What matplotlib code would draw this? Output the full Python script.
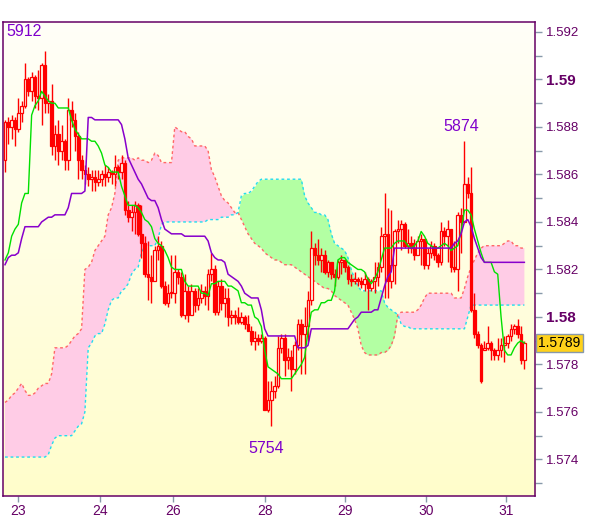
import numpy as np
import matplotlib
matplotlib.use("Agg")
import matplotlib.pyplot as plt

plt.rcParams['font.family'] = ['Liberation Sans', 'DejaVu Sans']

# hourly bars, prices written as the last four digits (5882 -> 1.5882)
o = [5866,5882,5880,5883,5879,5886,5889,5900,5895,5901,
     5893,5892,5906,5890,5891,5872,5877,5870,5874,5866,
     5887,5883,5876,5866,5862,5860,5858,5859,5857,5858,
     5860,5859,5861,5860,5863,5861,5865,5845,5842,5844,
     5847,5835,5831,5818,5817,5815,5828,5830,5813,5806,
     5810,5810,5819,5817,5801,5811,5801,5811,5805,5808,
     5811,5809,5818,5820,5802,5813,5806,5808,5800,5801,
     5800,5798,5800,5797,5794,5790,5791,5790,5791,5761,
     5765,5769,5771,5787,5791,5782,5783,5778,5788,5797,
     5793,5796,5807,5829,5826,5824,5826,5819,5823,5818,
     5817,5823,5824,5821,5816,5815,5816,5815,5814,5816,
     5812,5815,5817,5821,5834,5835,5815,5822,5836,5837,
     5839,5830,5831,5829,5826,5832,5833,5822,5827,5830,
     5826,5823,5836,5834,5837,5821,5820,5843,5840,5856,
     5852,5803,5793,5788,5786,5787,5789,5786,5784,5786,
     5788,5789,5792,5795,5796,5793,5782]
c = [5882,5880,5883,5879,5886,5889,5900,5895,5901,5893,
     5892,5906,5890,5891,5872,5877,5870,5874,5866,5887,
     5883,5876,5866,5862,5860,5858,5859,5857,5858,5860,
     5859,5861,5860,5863,5861,5865,5845,5842,5844,5847,
     5835,5831,5818,5817,5815,5828,5830,5813,5806,5810,
     5810,5819,5817,5801,5811,5801,5811,5805,5808,5811,
     5809,5818,5820,5802,5813,5806,5808,5800,5801,5800,
     5798,5800,5797,5794,5790,5791,5790,5791,5761,5765,
     5769,5771,5787,5791,5782,5783,5778,5788,5797,5793,
     5796,5807,5829,5826,5824,5826,5819,5823,5818,5817,
     5823,5824,5821,5816,5815,5816,5815,5814,5816,5812,
     5815,5817,5821,5834,5835,5815,5822,5836,5837,5839,
     5830,5831,5829,5826,5832,5833,5822,5827,5830,5826,
     5823,5836,5834,5837,5821,5820,5843,5840,5856,5852,
     5803,5793,5788,5773,5787,5789,5786,5784,5786,5788,
     5789,5792,5795,5796,5793,5782,5789]
h = [5883,5884,5885,5884,5892,5891,5907,5901,5903,5902,
     5904,5907,5912,5894,5898,5881,5883,5881,5875,5892,
     5891,5886,5878,5868,5864,5863,5862,5862,5862,5862,
     5864,5863,5862,5868,5864,5868,5866,5849,5847,5849,
     5848,5847,5834,5832,5826,5830,5834,5832,5815,5814,
     5826,5826,5820,5819,5818,5813,5814,5812,5812,5814,
     5813,5820,5827,5822,5815,5816,5812,5812,5803,5803,
     5804,5802,5801,5801,5796,5794,5793,5793,5792,5773,
     5773,5775,5792,5793,5793,5787,5786,5790,5799,5799,
     5804,5811,5836,5831,5833,5829,5828,5824,5823,5820,
     5824,5826,5823,5822,5818,5819,5817,5817,5819,5817,
     5816,5823,5823,5838,5852,5846,5845,5837,5841,5841,
     5840,5837,5834,5833,5834,5835,5830,5829,5832,5831,
     5827,5840,5838,5841,5829,5832,5844,5846,5874,5859,
     5863,5810,5794,5789,5790,5796,5790,5787,5791,5791,
     5792,5793,5797,5797,5799,5796,5790]
l = [5861,5873,5875,5872,5878,5882,5888,5893,5891,5888,
     5887,5881,5886,5886,5868,5866,5864,5866,5862,5862,
     5880,5870,5858,5858,5856,5855,5853,5853,5855,5855,
     5855,5857,5856,5855,5858,5858,5843,5840,5836,5835,
     5834,5825,5817,5807,5806,5816,5824,5812,5805,5804,
     5808,5806,5814,5800,5799,5798,5801,5802,5803,5806,
     5805,5803,5815,5801,5801,5803,5800,5796,5797,5797,
     5797,5797,5795,5794,5788,5786,5788,5789,5761,5760,
     5754,5766,5770,5785,5775,5778,5769,5776,5786,5776,
     5776,5790,5805,5822,5822,5819,5818,5817,5816,5813,
     5816,5818,5819,5814,5813,5814,5813,5812,5811,5803,
     5811,5810,5813,5819,5808,5808,5812,5814,5831,5828,
     5829,5827,5827,5824,5826,5822,5820,5820,5825,5824,
     5821,5822,5830,5823,5819,5819,5811,5827,5844,5850,
     5802,5791,5787,5772,5786,5786,5782,5782,5782,5783,
     5781,5787,5790,5793,5791,5780,5778]

# conversion line (green) and base line (purple)
tenkan = [5824,5827,5834,5837,5839,5848,5852,5852,5885,5889,
          5891,5895,5893,5891,5890,5890,5888,5888,5888,5888,
          5883,5879,5877,5875,5875,5875,5874,5874,5872,5869,
          5864,5863,5861,5861,5861,5855,5851,5847,5847,5847,
          5846,5844,5841,5840,5838,5833,5831,5830,5828,5825,
          5821,5820,5820,5820,5815,5813,5813,5813,5813,5810,
          5810,5809,5814,5814,5815,5815,5815,5813,5813,5812,
          5811,5806,5806,5805,5805,5800,5799,5796,5786,5779,
          5778,5777,5776,5774,5774,5774,5774,5776,5778,5780,
          5783,5794,5802,5803,5803,5806,5806,5807,5807,5811,
          5824,5825,5825,5823,5822,5821,5820,5820,5819,5816,
          5814,5816,5819,5824,5829,5829,5829,5831,5832,5832,
          5832,5830,5829,5830,5832,5836,5834,5831,5830,5829,
          5829,5830,5831,5830,5828,5829,5830,5836,5845,5845,
          5843,5837,5832,5827,5823,5823,5823,5819,5818,5800,
          5786,5784,5784,5787,5789,5790,5789]
kijun = [5822,5825,5826,5826,5827,5833,5838,5838,5838,5838,
         5838,5840,5841,5842,5842,5843,5843,5843,5843,5846,
         5852,5852,5852,5852,5853,5884,5884,5883,5883,5883,
         5883,5883,5883,5883,5883,5881,5875,5867,5864,5861,
         5858,5856,5853,5850,5849,5849,5846,5841,5837,5836,
         5835,5835,5835,5835,5834,5834,5834,5834,5834,5834,
         5834,5832,5827,5825,5824,5824,5823,5818,5817,5816,
         5815,5813,5810,5809,5808,5808,5808,5803,5795,5792,
         5792,5792,5792,5792,5792,5792,5792,5792,5787,5787,
         5787,5788,5795,5795,5795,5795,5795,5795,5795,5795,
         5795,5795,5795,5795,5797,5799,5800,5802,5802,5802,
         5802,5803,5803,5808,5813,5817,5819,5829,5829,5829,
         5829,5829,5829,5829,5829,5829,5829,5829,5829,5829,
         5829,5829,5829,5829,5829,5831,5832,5835,5840,5841,
         5838,5833,5829,5825,5823,5823,5823,5823,5823,5823,
         5823,5823,5823,5823,5823,5823,5823]
# cloud spans
span_a = [5764,5765,5767,5768,5770,5772,5769,5767,5767,5768,
          5770,5771,5772,5772,5776,5787,5787,5787,5787,5788,
          5790,5792,5793,5795,5820,5821,5823,5828,5830,5832,
          5834,5843,5846,5852,5866,5867,5867,5867,5867,5866,
          5867,5866,5866,5865,5866,5869,5868,5865,5865,5865,
          5865,5880,5879,5878,5878,5876,5875,5872,5872,5872,
          5872,5870,5862,5859,5855,5851,5849,5848,5846,5844,
          5844,5841,5838,5835,5833,5831,5830,5829,5827,5826,
          5825,5824,5824,5823,5822,5822,5822,5821,5820,5819,
          5818,5817,5816,5815,5814,5813,5812,5812,5811,5809,
          5808,5807,5806,5805,5802,5799,5795,5788,5785,5784,
          5784,5784,5784,5785,5785,5786,5788,5792,5801,5802,
          5802,5802,5802,5802,5803,5805,5808,5810,5810,5810,
          5810,5810,5810,5810,5810,5808,5808,5808,5812,5817,
          5821,5824,5827,5829,5830,5830,5830,5830,5830,5830,
          5831,5832,5832,5830,5830,5829,5829]
span_b = [5741,5741,5741,5741,5741,5741,5741,5741,5741,5741,
          5741,5741,5741,5742,5746,5749,5750,5750,5750,5750,
          5750,5752,5754,5755,5760,5787,5789,5792,5793,5793,
          5797,5803,5807,5808,5808,5811,5812,5814,5818,5820,
          5821,5827,5830,5830,5830,5830,5833,5839,5840,5840,
          5840,5840,5840,5840,5840,5840,5840,5840,5840,5840,
          5840,5841,5841,5841,5841,5842,5842,5842,5843,5843,
          5844,5851,5852,5852,5853,5855,5857,5858,5858,5858,
          5858,5858,5858,5858,5858,5858,5858,5858,5858,5858,
          5851,5848,5846,5844,5844,5843,5843,5841,5835,5831,
          5830,5829,5828,5825,5820,5816,5813,5811,5811,5811,
          5811,5811,5811,5811,5806,5804,5803,5802,5801,5797,
          5796,5796,5795,5795,5795,5795,5795,5795,5795,5795,
          5795,5795,5795,5795,5795,5795,5795,5795,5795,5800,
          5805,5805,5805,5805,5805,5805,5805,5805,5805,5805,
          5805,5805,5805,5805,5805,5805,5805]

day_pos = [4, 28.5, 50.5, 78, 102, 126.5, 150.5]
day_labels = ['23', '24', '26', '28', '29', '30', '31']

def px(v):
    return 1 + np.asarray(v, dtype=float) / 10000

O, C, H, L = px(o), px(c), px(h), px(l)
H = np.maximum(H, np.maximum(O, C))
L = np.minimum(L, np.minimum(O, C))
x = np.arange(len(C))
A, B = px(span_a), px(span_b)

fig = plt.figure(figsize=(6, 5.19), dpi=100)
ax = fig.add_axes([0.005, 0.0443, 0.8867, 0.9133])

# soft yellow gradient
grad = np.linspace(0, 1, 256).reshape(-1, 1)
cmap = matplotlib.colors.LinearSegmentedColormap.from_list('bg', ['#FFFDCB', '#FFFFF8'])
ax.imshow(grad, extent=[0, 1, 0, 1], transform=ax.transAxes, origin='lower',
          aspect='auto', cmap=cmap, zorder=0)

ax.fill_between(x, A, B, where=A >= B, interpolate=True, color='#FFCCE6', lw=0, zorder=1)
ax.fill_between(x, A, B, where=A < B, interpolate=True, color='#B3FFA3', lw=0, zorder=1)
ax.plot(x, A, color='#FF6666', lw=1, ls=(0, (2, 2)), zorder=2)
ax.plot(x, B, color='#22DDEE', lw=1, ls=(0, (2, 2)), zorder=2)

up = C >= O
ax.vlines(x, L, H, color='#FF0000', lw=1, zorder=3)
body = np.maximum(np.abs(C - O), 0.00003)
ax.bar(x, body, bottom=np.minimum(O, C), width=0.8,
       color=np.where(up, '#FFFFF2', '#FF0000'), edgecolor='#FF0000', lw=0.9, zorder=4)

ax.plot(x, px(tenkan), color='#00E000', lw=1, zorder=5)
ax.plot(x, px(kijun), color='#8800CC', lw=1.1, zorder=5)

ax.set_xlim(-0.6, 159.2)
ax.set_ylim(1.57246, 1.59242)

# labels for the extremes
txt = '#7F00CC'
ax.text(0.006, 0.995, f"{int(max(h))}", transform=ax.transAxes, color=txt,
        fontsize=11.5, va='top', ha='left', zorder=6)
i_hi = 120 + int(np.argmax(h[120:]))
ax.annotate(f"{h[i_hi]}", (i_hi, H[i_hi]), xytext=(-2, 5), textcoords='offset points',
            ha='center', va='bottom', color=txt, fontsize=11.5, zorder=6)
i_lo = int(np.argmin(l))
ax.annotate(f"{l[i_lo]}", (i_lo, L[i_lo]), xytext=(-4, -11), textcoords='offset points',
            ha='center', va='top', color=txt, fontsize=11.5, zorder=6)

# axes styling
for s in ax.spines.values():
    s.set_color('#660066')
    s.set_linewidth(1.1)
ax.yaxis.tick_right()
ax.set_yticks(np.arange(1.574, 1.5921, 0.002))
ax.set_yticks(np.arange(1.573, 1.5921, 0.002), minor=True)
ylabels = []
for v in np.arange(1.574, 1.5921, 0.002):
    ylabels.append(f"{v:.2f}" if abs(v * 100 - round(v * 100)) < 1e-6 else f"{v:.3f}")
ax.set_yticklabels(ylabels)
ax.tick_params(axis='y', which='both', right=True, length=5, width=1, color='#8899AA',
               labelcolor='#660066', labelsize=9.5, pad=3)
for t in ax.get_yticklabels():
    if len(t.get_text()) == 4:
        t.set_fontweight('bold')
        t.set_fontsize(11)
ax.set_xticks(day_pos)
ax.set_xticklabels(day_labels)
ax.tick_params(axis='x', length=4, width=1, color='#8899AA', labelcolor='#660066',
               labelsize=10, pad=2)

# last price tag
ax.annotate(f"{C[-1]:.4f}", (1.006, C[-1]), xycoords=('axes fraction', 'data'),
            va='center', ha='left', fontsize=10, color='black', annotation_clip=False,
            bbox=dict(boxstyle='square,pad=0.15', fc='#FFD21A', ec='#8899AA', lw=1))

fig.savefig('out.png', dpi=100)
